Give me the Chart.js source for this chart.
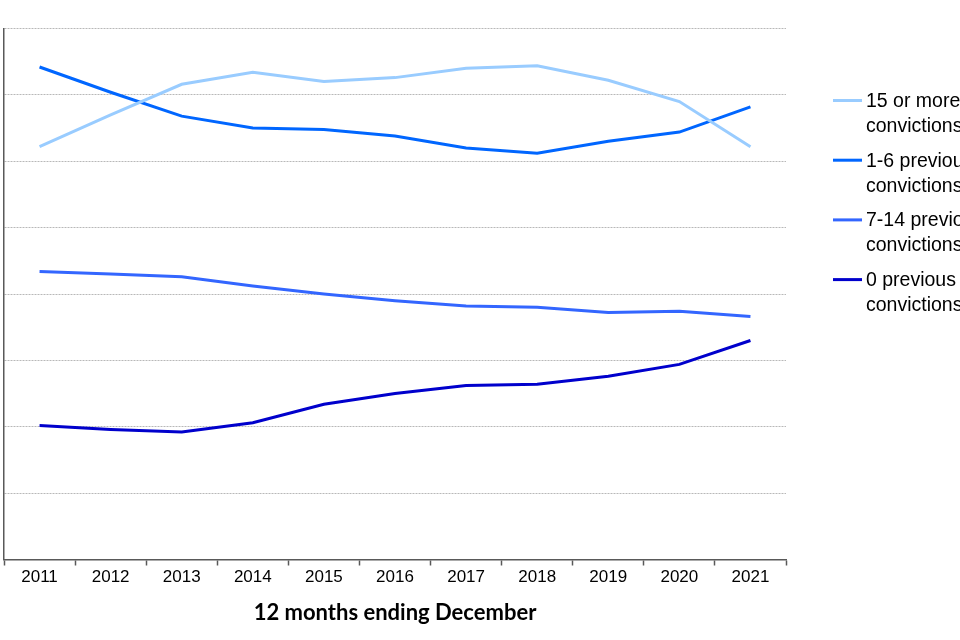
<!DOCTYPE html>
<html>
<head>
<meta charset="utf-8">
<script src="https://cdn.jsdelivr.net/npm/chart.js@4"></script>
<style>
  html, body { margin: 0; padding: 0; background: #fff; overflow: hidden; }
  #wrap { width: 960px; height: 640px; }
</style>
</head>
<body>
<div id="wrap"><canvas id="c" width="960" height="640"></canvas></div>
<script>
// ---- data ----
const years = ['2011','2012','2013','2014','2015','2016','2017','2018','2019','2020','2021'];
const fifteenPlus = [31.1, 33.5, 35.8, 36.7, 36.0, 36.3, 37.0, 37.2, 36.1, 34.5, 31.1];
const oneToSix    = [37.1, 35.2, 33.4, 32.5, 32.4, 31.9, 31.0, 30.6, 31.5, 32.2, 34.1];
const sevenTo14   = [21.7, 21.5, 21.3, 20.6, 20.0, 19.5, 19.1, 19.0, 18.6, 18.7, 18.3];
const zeroPrev    = [10.1, 9.8, 9.6, 10.3, 11.7, 12.5, 13.1, 13.2, 13.8, 14.7, 16.5];
const seriesNames = [
  ['15 or more previous', 'convictions'],
  ['1-6 previous', 'convictions'],
  ['7-14 previous', 'convictions'],
  ['0 previous', 'convictions']
];
const seriesColors = ['#99CCFF', '#0066FF', '#3366FF', '#0000CC'];
const xTitle = '12 months ending December';

const legendPlugin = {
  id: 'sideLegend',
  afterDraw(chart) {
    const ctx = chart.ctx;
    ctx.save();
    ctx.font = '19.5px "Liberation Sans", Arial, sans-serif';
    ctx.fillStyle = '#000';
    ctx.textBaseline = 'middle';
    ctx.textAlign = 'left';
    chart.data.datasets.forEach((ds, i) => {
      const y = 100.5 + i * 59.7;
      ctx.strokeStyle = ds.borderColor;
      ctx.lineWidth = 3;
      ctx.beginPath();
      ctx.moveTo(833, y);
      ctx.lineTo(862, y);
      ctx.stroke();
      const lines = ds.legendLines;
      lines.forEach((t, j) => ctx.fillText(t, 866, y + 1 + j * 25));
    });
    ctx.restore();
  }
};

const mk = (vals, i) => ({
  label: seriesNames[i].join(' '),
  legendLines: seriesNames[i],
  data: vals,
  borderColor: seriesColors[i],
  backgroundColor: seriesColors[i],
  borderWidth: 3,
  pointRadius: 0,
  tension: 0,
  fill: false
});

new Chart(document.getElementById('c'), {
  type: 'line',
  data: {
    labels: years,
    datasets: [mk(fifteenPlus, 0), mk(oneToSix, 1), mk(sevenTo14, 2), mk(zeroPrev, 3)]
  },
  options: {
    responsive: false,
    animation: false,
    devicePixelRatio: 1,
    layout: { padding: { left: 4, right: 174, top: 28.5, bottom: 0 } },
    plugins: { legend: { display: false }, tooltip: { enabled: false } },
    scales: {
      x: {
        offset: true,
        grid: { offset: true, drawOnChartArea: false, drawTicks: true, tickLength: 6, tickColor: '#595959', tickWidth: 1.5 },
        border: { display: true, color: '#595959', width: 1.5 },
        ticks: { color: '#000', font: { family: '"Liberation Sans", Arial, sans-serif', size: 17 }, padding: 2, maxRotation: 0, autoSkip: false },
        title: { display: true, text: xTitle, color: '#000', font: { family: 'Lato, sans-serif', size: 22, weight: 'bold' }, padding: { top: 0, bottom: 14 } },
        afterFit(scale) { scale.height = 80.5; }
      },
      y: {
        min: 0, max: 40,
        ticks: { display: false, stepSize: 5 },
        grid: { drawTicks: false, color: '#B8B8B8', lineWidth: 1 },
        border: { display: true, color: '#595959', width: 1.5, dash: [2, 1] },
        afterFit(scale) { scale.width = 0; }
      }
    }
  },
  plugins: [legendPlugin]
});
</script>
</body>
</html>
